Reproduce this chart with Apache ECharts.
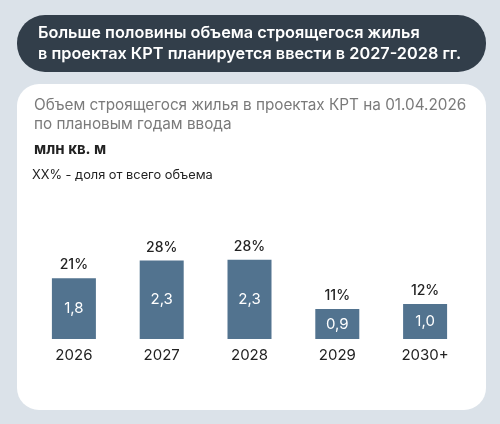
<!DOCTYPE html>
<html><head><meta charset="utf-8">
<script src="https://cdn.jsdelivr.net/npm/echarts@6/dist/echarts.min.js"></script>
<style>html,body{margin:0;padding:0;background:#dbe2e9}#c{width:500px;height:424px}</style>
</head><body><div id="c"></div>
<script>
const categories = ['2026', '2027', '2028', '2029', '2030+'];
const values = [1.79, 2.31, 2.33, 0.88, 1.03];
const valueLabels = ['1,8', '2,3', '2,3', '0,9', '1,0'];
const shareLabels = ['21%', '28%', '28%', '11%', '12%'];

const FONT = 'Inter, "Noto Sans", sans-serif';
const chart = echarts.init(document.getElementById('c'), null, {renderer: 'canvas'});
chart.setOption({
  backgroundColor: '#dbe2e9',
  animation: false,
  graphic: [
    {type: 'rect', shape: {x: 17, y: 15, width: 469, height: 57, r: 28}, style: {fill: '#323e4a'}, z: 0},
    {type: 'text', left: 38, top: 23, style: {text: 'Больше половины объема строящегося жилья\nв проектах КРТ планируется ввести в 2027-2028 гг.', fill: '#ffffff', font: '600 16.3px ' + FONT, lineHeight: 21}, z: 1},
    {type: 'rect', shape: {x: 17, y: 84, width: 469, height: 326, r: 22}, style: {fill: '#ffffff'}, z: 0},
    {type: 'text', left: 34, top: 96, style: {text: 'Объем строящегося жилья в проектах КРТ на 01.04.2026\nпо плановым годам ввода', fill: '#7a7a7a', font: '400 15.3px ' + FONT, lineHeight: 19}, z: 1},
    {type: 'text', left: 34, top: 142, style: {text: 'млн кв. м', fill: '#222222', font: '700 15px ' + FONT}, z: 1},
    {type: 'text', left: 32, top: 169, style: {text: 'XX% - доля от всего объема', fill: '#222222', font: '400 12.8px ' + FONT}, z: 1}
  ],
  grid: {left: 30, right: 31, top: 237, bottom: 85},
  xAxis: {
    type: 'category', data: categories,
    axisLine: {show: false}, axisTick: {show: false},
    axisLabel: {color: '#222', fontSize: 15, fontFamily: FONT, margin: 9}
  },
  yAxis: {type: 'value', min: 0, max: 3, show: false, splitLine: {show: false}},
  series: [
    {
      type: 'bar', data: values, barWidth: 44, z: 2,
      itemStyle: {color: '#52738f'},
      label: {show: true, position: 'inside', color: '#ffffff', fontSize: 15, fontFamily: FONT,
        formatter: p => valueLabels[p.dataIndex]}
    },
    {
      type: 'bar', data: values, barWidth: 44, barGap: '-100%', z: 3,
      itemStyle: {color: 'transparent'},
      label: {show: true, position: 'top', distance: 6, color: '#222', fontSize: 14, fontWeight: 500, fontFamily: FONT,
        formatter: p => shareLabels[p.dataIndex]},
      silent: true
    }
  ]
});
</script></body></html>
